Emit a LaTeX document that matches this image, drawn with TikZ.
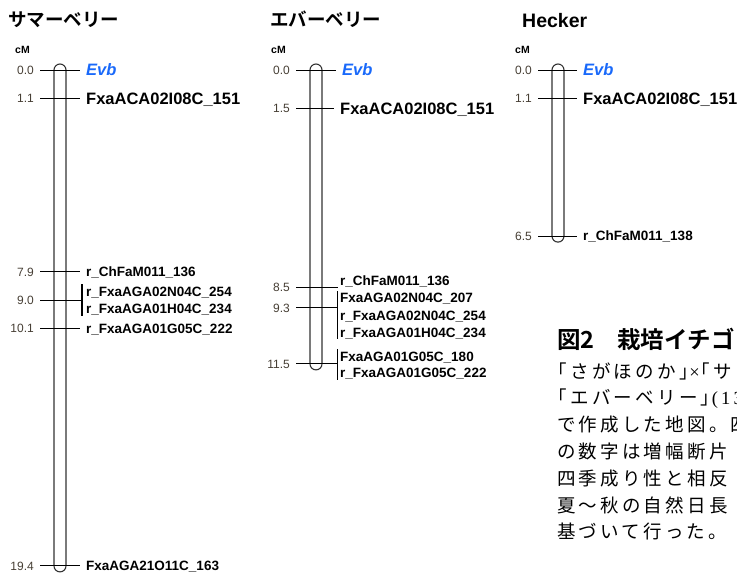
\documentclass[tikz,border=0pt]{standalone}
\usepackage{fontspec}
\setmainfont{Liberation Sans}
\newfontfamily\jp[BoldFont={Noto Sans CJK JP Bold}]{Noto Sans CJK JP}
\newfontfamily\jpA[LetterSpace=17.3]{Noto Sans CJK JP}
\newfontfamily\serifjp[LetterSpace=17.3]{Liberation Serif}
\definecolor{evbblue}{RGB}{25,105,250}
\definecolor{numgray}{RGB}{70,62,52}
\begin{document}
\begin{tikzpicture}[x=1pt,y=-1pt,
  num/.style={anchor=east, inner xsep=6pt, inner ysep=0pt, text=numgray,
    font=\fontsize{12}{12}\selectfont, text height=8.6pt, text depth=0pt},
  big/.style={anchor=west, inner xsep=6pt, inner ysep=0pt,
    font=\bfseries\fontsize{16.5}{16.5}\selectfont, text height=11.8pt, text depth=0pt},
  small/.style={anchor=west, inner xsep=6pt, inner ysep=0pt,
    font=\bfseries\fontsize{13.5}{13.5}\selectfont, text height=9.7pt, text depth=0pt},
  evb/.style={big, text=evbblue, font=\bfseries\itshape\fontsize{16.5}{16.5}\selectfont},
  chrom/.style={draw=black!80, line width=1.1pt, rounded corners=6pt},
  tick/.style={draw=black, line width=0.9pt},
  grp/.style={draw=black, line width=1.6pt},
  cmlab/.style={anchor=base west, inner sep=0pt, font=\bfseries\fontsize{10.5}{10.5}\selectfont},
  jtitle/.style={anchor=base west, inner sep=0pt, font=\jp\bfseries\fontsize{18.5}{18.5}\selectfont},
  etitle/.style={anchor=base west, inner sep=0pt, font=\bfseries\fontsize{19.5}{19.5}\selectfont},
  captitle/.style={anchor=base west, inner sep=0pt, font=\jp\bfseries\fontsize{23.5}{23.5}\selectfont},
  capline/.style={anchor=base west, inner sep=0pt, font=\jpA\fontsize{18.5}{18.5}\selectfont},
]
\useasboundingbox (0,0) rectangle (737,573);
\clip (0,0) rectangle (737,573);

% ---------- Chromosome 1: サマーベリー ----------
\node[jtitle] (t1) at (8,26.8) {サマーベリー};
\node[cmlab] (cm1) at (15,53.5) {cM};
\draw[chrom] (54,64) rectangle (66,571.9);
\node[num] (a0) at (40,70) {0.0};
\node[evb] (la0) at (80,70) {Evb};
\draw[tick] (a0.east) -- (la0.west);
\node[num] (a1) at (40,98.1) {1.1};
\node[big] (la1) at (80,98.1) {FxaACA02I08C\_151};
\draw[tick] (a1.east) -- (la1.west);
\node[num] (a2) at (40,271.9) {7.9};
\node[small] (la2) at (80,271.9) {r\_ChFaM011\_136};
\draw[tick] (a2.east) -- (la2.west);
\node[num] (a3) at (40,300) {9.0};
\coordinate (ga3) at (82,300);
\draw[tick] (a3.east) -- (ga3);
\coordinate (ga3t) at (82,284);
\coordinate (ga3b) at (82,316);
\draw[grp] (ga3t) -- (ga3b);
\node[small] (la3a) at (80,291.5) {r\_FxaAGA02N04C\_254};
\node[small] (la3b) at (80,308.5) {r\_FxaAGA01H04C\_234};
\node[num] (a4) at (40,328.2) {10.1};
\node[small] (la4) at (80,328.2) {r\_FxaAGA01G05C\_222};
\draw[tick] (a4.east) -- (la4.west);
\node[num] (a5) at (40,565.9) {19.4};
\node[small] (la5) at (80,565.9) {FxaAGA21O11C\_163};
\draw[tick] (a5.east) -- (la5.west);

% ---------- Chromosome 2: エバーベリー ----------
\node[jtitle] (t2) at (270,26.8) {エバーベリー};
\node[cmlab] (cm2) at (271,53.5) {cM};
\draw[chrom] (310,64) rectangle (322,369.9);
\node[num] (b0) at (296,70) {0.0};
\node[evb] (lb0) at (336,70) {Evb};
\draw[tick] (b0.east) -- (lb0.west);
\node[num] (b1) at (296,108.3) {1.5};
\node[big] (lb1) at (334,108.3) {FxaACA02I08C\_151};
\draw[tick] (b1.east) -- (lb1.west);
\node[num] (b2) at (296,287.3) {8.5};
\coordinate (gb2) at (338,287.3);
\draw[tick] (b2.east) -- (gb2);
\node[small] (lb2) at (334,281) {r\_ChFaM011\_136};
\node[num] (b3) at (296,307.7) {9.3};
\coordinate (gb3) at (337.5,307.7);
\draw[tick] (b3.east) -- (gb3);
\coordinate (gb3t) at (337.5,291);
\coordinate (gb3b) at (337.5,339);
\draw[grp] (gb3t) -- (gb3b);
\node[small] (lb3a) at (334,297.5) {FxaAGA02N04C\_207};
\node[small] (lb3b) at (334,315.5) {r\_FxaAGA02N04C\_254};
\node[small] (lb3c) at (334,333) {r\_FxaAGA01H04C\_234};
\node[num] (b4) at (296,363.9) {11.5};
\coordinate (gb4) at (337.5,363.9);
\draw[tick] (b4.east) -- (gb4);
\coordinate (gb4t) at (337.5,349);
\coordinate (gb4b) at (337.5,380);
\draw[grp] (gb4t) -- (gb4b);
\node[small] (lb4a) at (334,356.5) {FxaAGA01G05C\_180};
\node[small] (lb4b) at (334,373) {r\_FxaAGA01G05C\_222};

% ---------- Chromosome 3: Hecker ----------
\node[etitle] (t3) at (522,27) {Hecker};
\node[cmlab] (cm3) at (515,53.5) {cM};
\draw[chrom] (552,64) rectangle (564,242.1);
\node[num] (c0) at (538,70) {0.0};
\node[evb] (lc0) at (577,70) {Evb};
\draw[tick] (c0.east) -- (lc0.west);
\node[num] (c1) at (538,98.1) {1.1};
\node[big] (lc1) at (577,98.1) {FxaACA02I08C\_151};
\draw[tick] (c1.east) -- (lc1.west);
\node[num] (c2) at (538,236.1) {6.5};
\node[small] (lc2) at (577,236.1) {r\_ChFaM011\_138};
\draw[tick] (c2.east) -- (lc2.west);

% ---------- Caption (clipped at right edge) ----------
\node[captitle] (cap0) at (557,348.5) {図2};
\node[captitle] (cap0b) at (617,348.5) {栽培イチゴ};
\node[capline] (cap1) at (557,378)
  {\kern-0.45em「さがほのか」\kern-0.45em{\serifjp ×}\kern-0.45em「サ};
\node[capline] (cap2) at (557,404.8)
  {\kern-0.45em「エバーベリー」\kern-0.4em{\serifjp (13}};
\node[capline] (cap3) at (557,431.6) {で作成した地図。四};
\node[capline] (cap4) at (557,458.4) {の数字は増幅断片};
\node[capline] (cap5) at (557,485.2) {四季成り性と相反};
\node[capline] (cap6) at (557,512) {夏～秋の自然日長};
\node[capline] (cap7) at (557,538.8) {基づいて行った。};
\end{tikzpicture}
\end{document}
